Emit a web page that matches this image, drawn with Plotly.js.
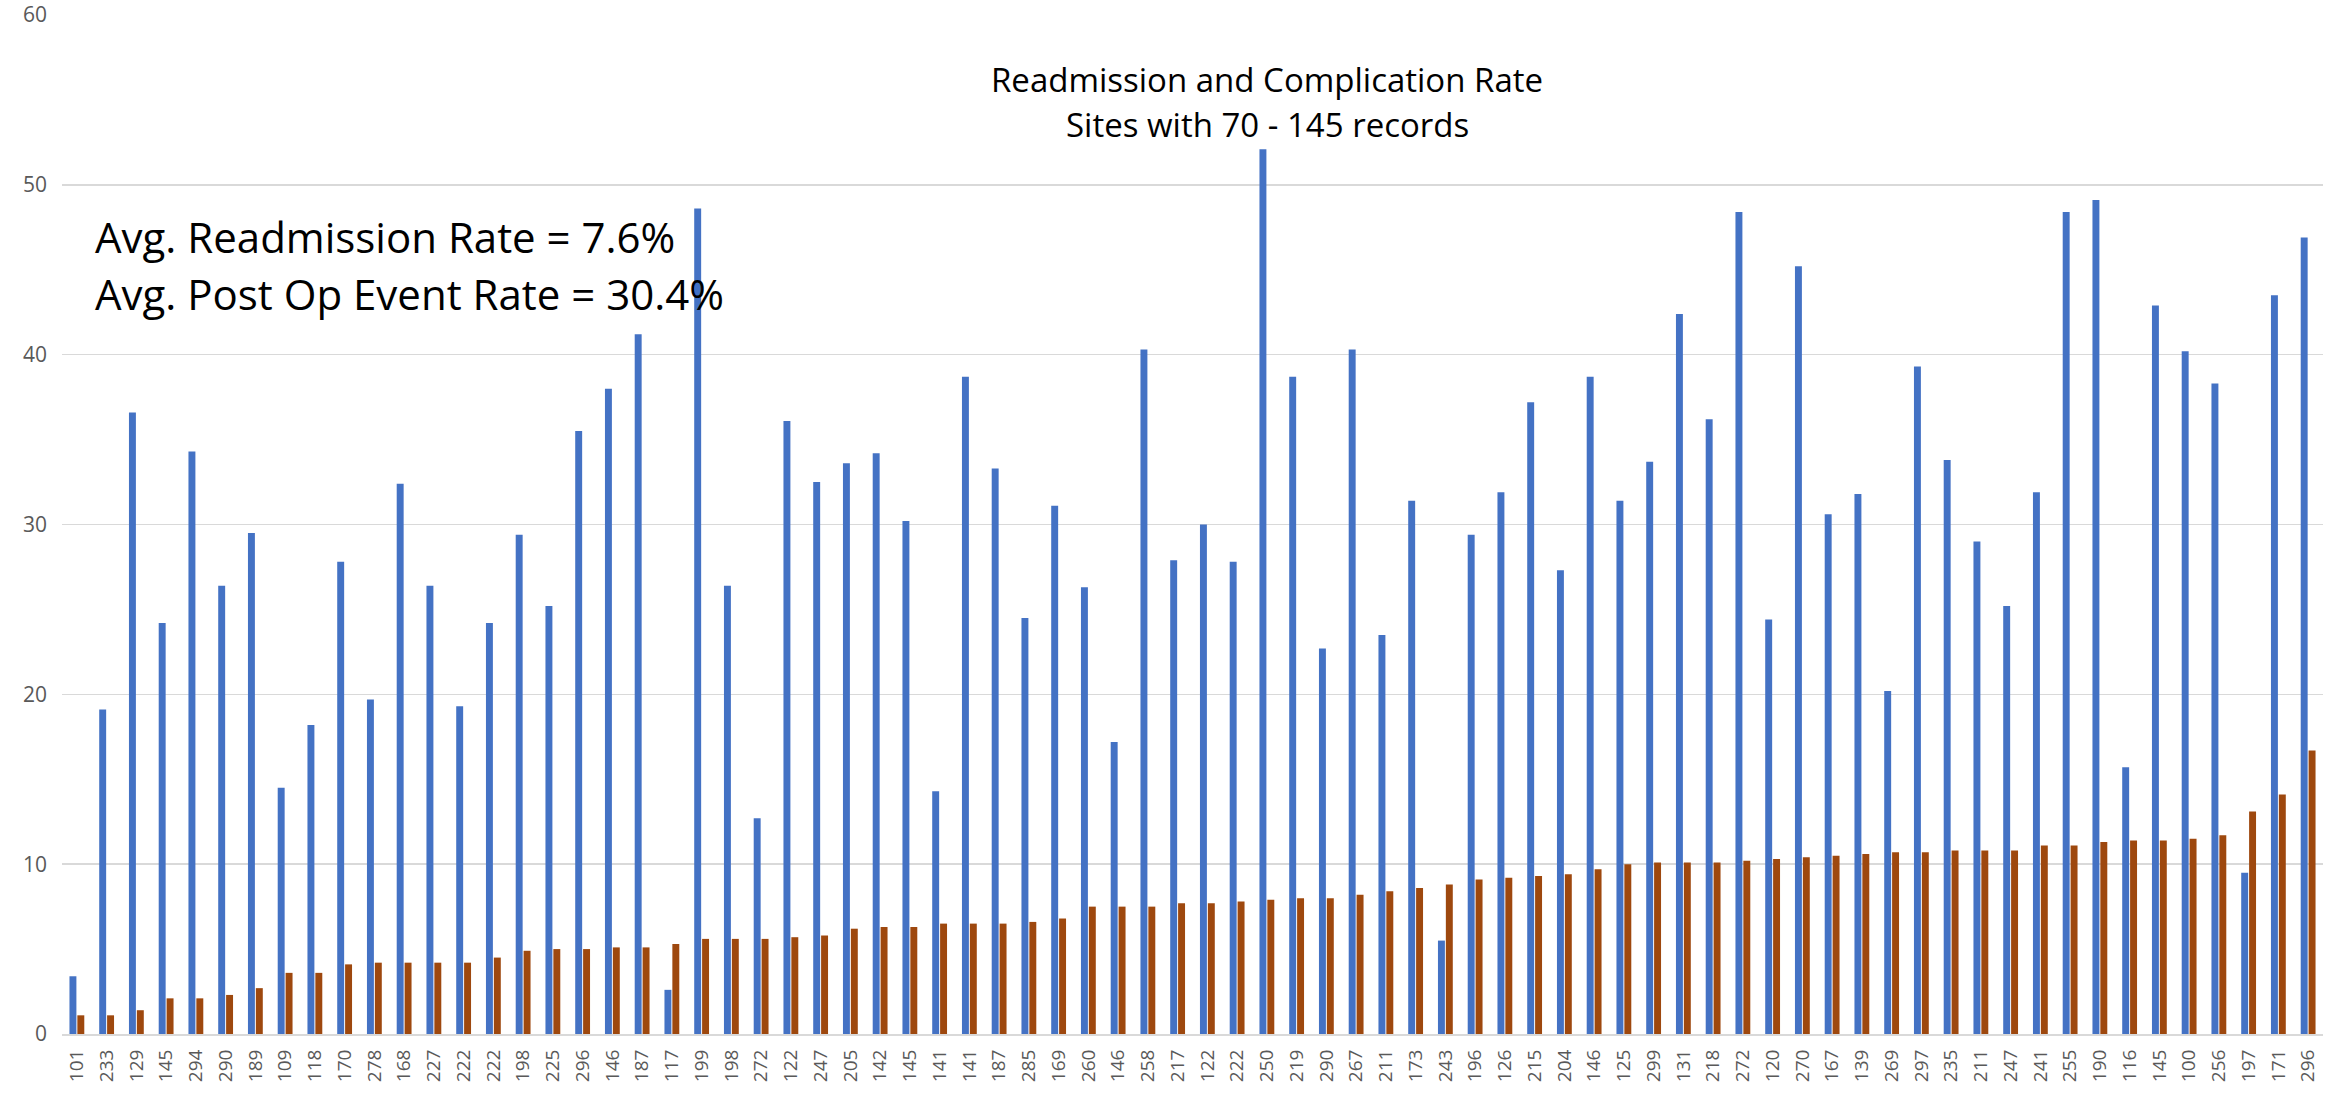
<!DOCTYPE html>
<html>
<head>
<meta charset="utf-8">
<script src="https://cdn.plot.ly/plotly-3.0.1.min.js"></script>
<style>
  html, body { margin: 0; padding: 0; background: #ffffff; }
  #chart { width: 2344px; height: 1095px; }
</style>
</head>
<body>
<div id="chart"></div>
<script>
// Site identifiers (x-axis tick labels, in display order; some repeat)
const sites = ["101","233","129","145","294","290","189","109","118","170","278","168","227","222","222","198","225","296","146","187","117","199","198","272","122","247","205","142","145","141","141","187","285","169","260","146","258","217","122","222","250","219","290","267","211","173","243","196","126","215","204","146","125","299","131","218","272","120","270","167","139","269","297","235","211","247","241","255","190","116","145","100","256","197","171","296"];

// Post-op event (complication) rate, blue bars
const postOpRate = [3.4,19.1,36.6,24.2,34.3,26.4,29.5,14.5,18.2,27.8,19.7,32.4,26.4,19.3,24.2,29.4,25.2,35.5,38.0,41.2,2.6,48.6,26.4,12.7,36.1,32.5,33.6,34.2,30.2,14.3,38.7,33.3,24.5,31.1,26.3,17.2,40.3,27.9,30.0,27.8,52.1,38.7,22.7,40.3,23.5,31.4,5.5,29.4,31.9,37.2,27.3,38.7,31.4,33.7,42.4,36.2,48.4,24.4,45.2,30.6,31.8,20.2,39.3,33.8,29.0,25.2,31.9,48.4,49.1,15.7,42.9,40.2,38.3,9.5,43.5,46.9];

// Readmission rate, orange bars
const readmissionRate = [1.1,1.1,1.4,2.1,2.1,2.3,2.7,3.6,3.6,4.1,4.2,4.2,4.2,4.2,4.5,4.9,5.0,5.0,5.1,5.1,5.3,5.6,5.6,5.6,5.7,5.8,6.2,6.3,6.3,6.5,6.5,6.5,6.6,6.8,7.5,7.5,7.5,7.7,7.7,7.8,7.9,8.0,8.0,8.2,8.4,8.6,8.8,9.1,9.2,9.3,9.4,9.7,10.0,10.1,10.1,10.1,10.2,10.3,10.4,10.5,10.6,10.7,10.7,10.8,10.8,10.8,11.1,11.1,11.3,11.4,11.4,11.5,11.7,13.1,14.1,16.7];

const yTicks = [0, 10, 20, 30, 40, 50, 60];

const titleLines = ["Readmission and Complication Rate", "Sites with 70 - 145 records"];
const noteLines = ["Avg. Readmission Rate = 7.6%", "Avg. Post Op Event Rate = 30.4%"];

const positions = sites.map((_, i) => i);

const FONT = '"Open Sans", "Noto Sans", "DejaVu Sans", sans-serif';

const traces = [
  {
    type: 'bar',
    name: 'Post Op Event Rate',
    x: positions,
    y: postOpRate,
    marker: { color: '#4472C4' },
    hoverinfo: 'y'
  },
  {
    type: 'bar',
    name: 'Readmission Rate',
    x: positions,
    y: readmissionRate,
    marker: { color: '#9E480E' },
    hoverinfo: 'y'
  }
];

const layout = {
  width: 2344,
  height: 1095,
  paper_bgcolor: '#ffffff',
  plot_bgcolor: '#ffffff',
  margin: { l: 62, r: 21, t: 15, b: 61 },
  showlegend: false,
  barmode: 'group',
  bargap: 0.47,
  bargroupgap: 0.12,
  font: { family: FONT, color: '#595959' },
  xaxis: {
    range: [-0.5, sites.length - 0.5],
    tickmode: 'array',
    tickvals: positions,
    ticktext: sites,
    tickangle: -90,
    tickfont: { size: 19, color: '#595959', family: FONT },
    ticklabelstandoff: 6,
    showgrid: false,
    showline: true,
    linecolor: '#D9D9D9',
    linewidth: 2,
    ticks: '',
    zeroline: false,
    fixedrange: true
  },
  yaxis: {
    range: [0, 60],
    tickmode: 'array',
    tickvals: yTicks,
    ticktext: yTicks.map(String),
    tickfont: { size: 21, color: '#595959', family: FONT },
    showgrid: true,
    gridcolor: '#D9D9D9',
    gridwidth: 1.5,
    zeroline: false,
    showline: false,
    ticks: '',
    ticklabelstandoff: 14,
    fixedrange: true
  },
  annotations: [
    {
      text: titleLines[0],
      xref: 'paper', yref: 'paper',
      x: 0.533, y: 0.937,
      xanchor: 'center', yanchor: 'middle',
      showarrow: false,
      font: { size: 33, color: '#000000', family: FONT }
    },
    {
      text: titleLines[1],
      xref: 'paper', yref: 'paper',
      x: 0.533, y: 0.893,
      xanchor: 'center', yanchor: 'middle',
      showarrow: false,
      font: { size: 33, color: '#000000', family: FONT }
    },
    {
      text: noteLines[0],
      xref: 'paper', yref: 'paper',
      x: 0.0137, y: 0.783,
      xanchor: 'left', yanchor: 'middle',
      showarrow: false,
      font: { size: 42, color: '#000000', family: FONT }
    },
    {
      text: noteLines[1],
      xref: 'paper', yref: 'paper',
      x: 0.0137, y: 0.727,
      xanchor: 'left', yanchor: 'middle',
      showarrow: false,
      font: { size: 42, color: '#000000', family: FONT }
    }
  ]
};

Plotly.newPlot('chart', traces, layout, { displayModeBar: false, staticPlot: true });
</script>
</body>
</html>
